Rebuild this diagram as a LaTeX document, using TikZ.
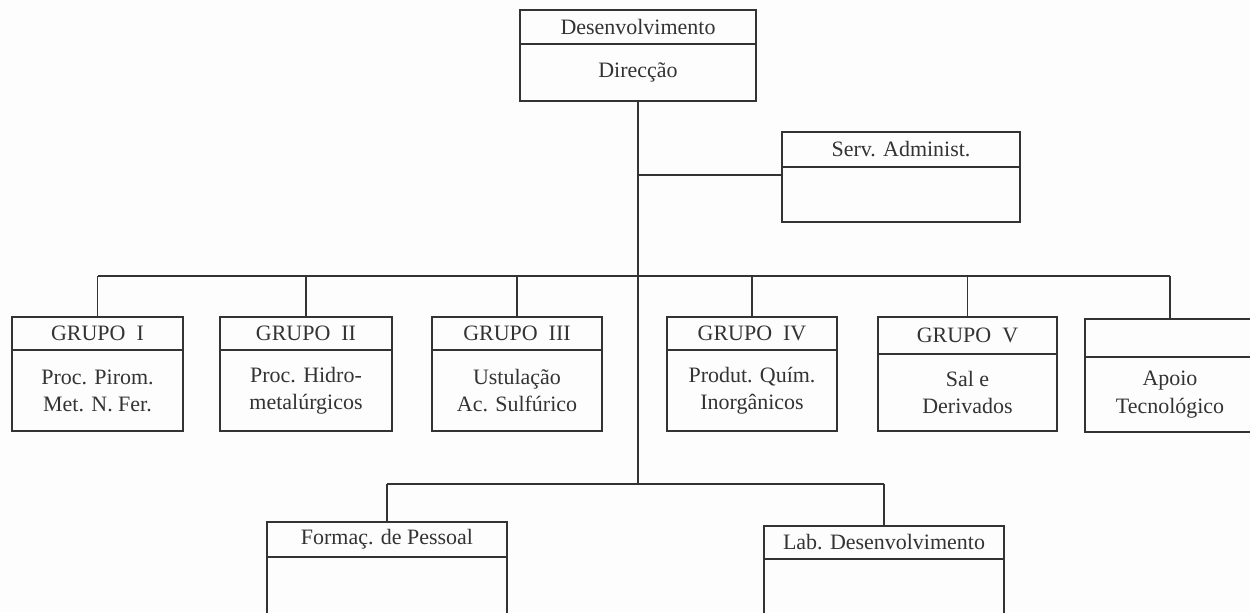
\documentclass[tikz,border=0pt]{standalone}
\usepackage{fontspec}
\setmainfont{Liberation Serif}
\usetikzlibrary{positioning}
\definecolor{ink}{HTML}{333333}
\definecolor{paper}{HTML}{FDFDFD}

\begin{document}
\begin{tikzpicture}[y=-1cm, color=ink, line width=1pt,
  hdr/.style={draw, outer sep=0pt, inner sep=0pt, font=\fontsize{12.5}{15.5}\selectfont},
  cell/.style={draw, outer sep=0pt, inner sep=0pt, align=center, font=\fontsize{12.5}{15.5}\selectfont}]

% Page (1250 x 612 px, 1 px = 0.02 cm, y grows downward)
\fill[paper] (0,0) rectangle (25,12.24);
\useasboundingbox (0,0) rectangle (25,12.24);

% Top box
\node[hdr, minimum width=4.72cm, minimum height=0.68cm] (dirh) at (12.76,0.54) {Desenvolvimento};
\node[cell, minimum width=4.72cm, minimum height=1.14cm, below=0pt of dirh] (dir) {Direcção};

% Serv. Administ. (hangs off the trunk on the right)
\node[hdr, minimum width=4.76cm, minimum height=0.70cm] (servh) at (18.02,2.99) {Serv. Administ.};
\node[cell, minimum width=4.76cm, minimum height=1.10cm, below=0pt of servh] (serv) {};

% Junction points on the trunk
\coordinate (jserv) at (12.76,3.50);
\coordinate (bus) at (12.76,5.52);
\coordinate (lowbus) at (12.76,9.68);

% Groups row
\node[hdr, minimum width=3.42cm, minimum height=0.66cm] (g1h) at (1.95,6.67) {GRUPO\ \ I};
\node[cell, minimum width=3.42cm, minimum height=1.62cm, below=0pt of g1h] (g1) {Proc. Pirom.\\Met. N. Fer.};

\node[hdr, minimum width=3.44cm, minimum height=0.66cm] (g2h) at (6.12,6.67) {GRUPO\ \ II};
\node[cell, minimum width=3.44cm, minimum height=1.62cm, below=0pt of g2h] (g2) {Proc. Hidro-\\metalúrgicos};

\node[hdr, minimum width=3.40cm, minimum height=0.66cm] (g3h) at (10.34,6.67) {GRUPO\ \ III};
\node[cell, minimum width=3.40cm, minimum height=1.62cm, below=0pt of g3h] (g3) {Ustulação\\Ac. Sulfúrico};

\node[hdr, minimum width=3.40cm, minimum height=0.66cm] (g4h) at (15.04,6.67) {GRUPO\ \ IV};
\node[cell, minimum width=3.40cm, minimum height=1.62cm, below=0pt of g4h] (g4) {Produt. Quím.\\Inorgânicos};

\node[hdr, minimum width=3.58cm, minimum height=0.74cm] (g5h) at (19.35,6.71) {GRUPO\ \ V};
\node[cell, minimum width=3.58cm, minimum height=1.54cm, below=0pt of g5h] (g5) {Sal e\\Derivados};

% Apoio box runs off the right edge
\node[hdr, minimum width=3.40cm, minimum height=0.76cm] (apoioh) at (23.40,6.76) {};
\node[cell, minimum width=3.40cm, minimum height=1.50cm, below=0pt of apoioh] (apoio) {Apoio\\Tecnológico};

% Bottom row
\node[hdr, minimum width=4.80cm, minimum height=0.70cm] (formh) at (7.74,10.79) {Formaç. de Pessoal};
\node[cell, minimum width=4.80cm, minimum height=1.36cm, below=0pt of formh] (form) {};

\node[hdr, minimum width=4.80cm, minimum height=0.66cm] (labh) at (17.68,10.85) {Lab. Desenvolvimento};
\node[cell, minimum width=4.80cm, minimum height=1.40cm, below=0pt of labh] (lab) {};

% Trunk and branches
\draw (dir.south) -- (lowbus);
\draw (jserv) -- (jserv -| serv.west);
\draw (g1h.north |- bus) -- (apoioh.north |- bus);
\draw (g1h.north) -- (g1h.north |- bus);
\draw (g2h.north) -- (g2h.north |- bus);
\draw (g3h.north) -- (g3h.north |- bus);
\draw (g4h.north) -- (g4h.north |- bus);
\draw (g5h.north) -- (g5h.north |- bus);
\draw (apoioh.north) -- (apoioh.north |- bus);
\draw (formh.north |- lowbus) -- (labh.north |- lowbus);
\draw (formh.north) -- (formh.north |- lowbus);
\draw (labh.north) -- (labh.north |- lowbus);

\end{tikzpicture}
\end{document}
